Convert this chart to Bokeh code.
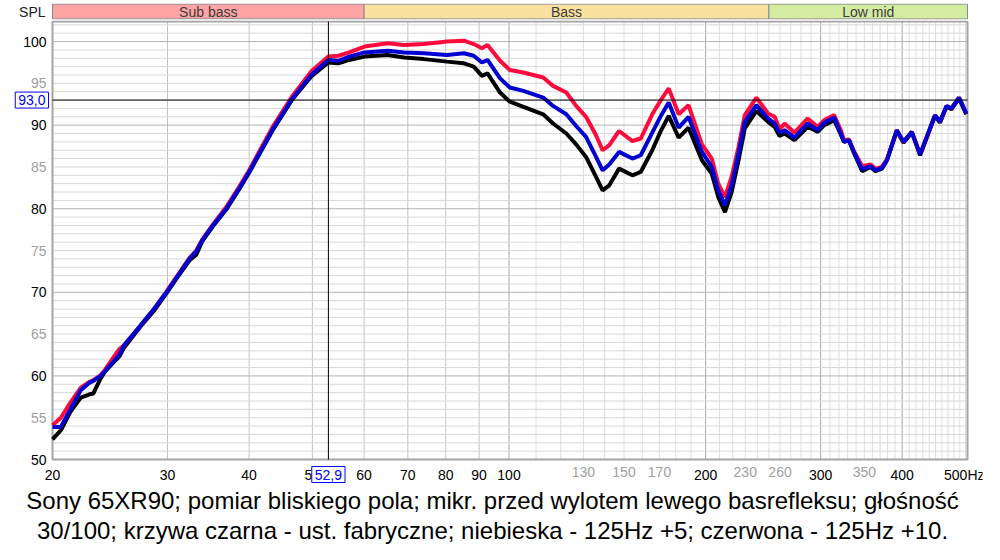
import numpy as np
from bokeh.plotting import figure
from bokeh.models import (Range1d, FixedTicker, Label, ColumnDataSource, Title,
                          LogAxis, LinearAxis)
from bokeh.layouts import column
from bokeh.embed import file_html
from bokeh.resources import INLINE
from bokeh.core.properties import value

# ---------------- data ----------------
freq = [20.0, 20.6, 21.3, 22.1, 22.8, 23.1, 23.7, 24.1, 25.3, 25.7, 27.2, 28.6,
        29.9, 31.0, 32.4, 33.2, 33.9, 35.2, 36.9, 38.6, 40.0, 43.4, 46.5, 49.9,
        52.9, 54.8, 56.9, 60.1, 65.2, 69.1, 74.1, 80.4, 85.3, 88.3, 90.9, 92.7,
        96.9, 100.3, 105.2, 112.8, 116.8, 122.4, 126.7, 131.2, 135.9, 139.1,
        142.4, 147.4, 154.5, 159.1, 165.7, 170.5, 175.6, 181.9, 188.3, 197.4,
        204.4, 209.1, 214.1, 219.2, 224.6, 229.6, 239.2, 249.2, 255.1, 259.6,
        264.2, 273.6, 286.6, 296.8, 303.9, 314.6, 322.1, 325.8, 331.5, 337.3,
        347.3, 357.6, 364.0, 372.4, 379.0, 392.4, 401.8, 413.8, 426.0, 449.0,
        456.9, 467.6, 475.8, 488.6, 501.3]

black = [52.4, 53.5, 55.7, 57.4, 57.8, 57.9, 59.7, 60.6, 62.3, 63.3, 65.8, 67.8,
         69.9, 71.7, 73.8, 74.5, 76.1, 77.9, 79.9, 82.3, 84.3, 89.3, 93.0, 95.9,
         97.5, 97.4, 97.8, 98.2, 98.4, 98.1, 97.9, 97.6, 97.4, 97.0, 95.9, 96.2,
         93.9, 92.8, 92.2, 91.3, 90.2, 89.0, 87.7, 86.2, 83.8, 82.2,
         82.8, 84.8, 84.0, 84.4, 87.0, 89.2, 91.1, 88.5, 89.7, 85.8,
         84.2, 81.4, 79.6, 82.0, 85.8, 89.6, 91.7, 90.4, 89.8, 88.7,
         89.0, 88.2, 89.8, 89.2, 90.0, 90.6, 88.9, 88.0, 88.2, 86.7,
         84.5, 85.0, 84.5, 84.8, 85.8, 89.3, 87.9, 89.1, 86.4, 91.1,
         90.3, 92.2, 91.9, 93.2, 91.3]

blue = [53.9, 53.9, 56.0, 58.3, 59.2, 59.4, 60.0, 60.6, 62.5, 63.6, 65.9, 68.0,
        70.0, 71.8, 74.0, 74.9, 76.2, 78.0, 80.0, 82.4, 84.4, 89.4, 93.1, 96.1,
        97.8, 97.7, 98.2, 98.7, 98.9, 98.7, 98.6, 98.4, 98.6, 98.3, 97.5, 97.8,
        95.6, 94.5, 94.1, 93.3, 92.3, 91.3, 89.9, 88.6, 86.2, 84.6,
        85.3, 86.8, 86.0, 86.4, 89.1, 91.0, 92.7, 89.7, 91.0, 86.8,
        85.0, 82.2, 80.4, 82.8, 86.6, 90.4, 92.4, 90.8, 90.2, 89.1,
        89.4, 88.5, 90.2, 89.4, 90.3, 90.9, 89.0, 88.0, 88.2, 86.8,
        84.7, 85.1, 84.6, 84.9, 85.8, 89.4, 88.0, 89.2, 86.5, 91.2,
        90.4, 92.3, 92.0, 93.3, 91.4]

red = [54.1, 55.0, 56.8, 58.6, 59.3, 59.5, 60.1, 60.8, 63.2, 63.6, 65.9, 68.0,
       70.1, 71.9, 74.1, 75.0, 76.3, 78.1, 80.2, 82.6, 84.6, 89.7, 93.4, 96.5,
       98.2, 98.3, 98.7, 99.4, 99.8, 99.6, 99.7, 100.0, 100.1, 99.7, 99.2, 99.6,
       97.7, 96.6, 96.3, 95.7, 94.7, 93.9, 92.3, 91.0, 88.8, 87.0,
       87.6, 89.3, 88.1, 88.4, 91.3, 92.9, 94.4, 91.3, 92.4, 87.7,
       86.0, 83.0, 81.4, 83.8, 87.4, 91.2, 93.3, 91.4, 91.0, 89.5,
       90.2, 89.1, 90.8, 89.8, 90.6, 91.2, 89.4, 88.2, 88.3, 86.9,
       85.1, 85.3, 84.8, 85.0, 85.9, 89.4, 88.0, 89.2, 86.5, 91.2,
       90.4, 92.3, 92.0, 93.3, 91.4]

band_names = ["Sub bass", "Bass", "Low mid"]
band_edges = [20, 60, 250, 503.5]
band_colors = ["#ffa4a4", "#f9e1a0", "#d4eba2"]

x_tick_labels_major = [20, 30, 40, 50, 60, 70, 80, 90, 100, 200, 300, 400, 500]
x_tick_labels_minor = [130, 150, 170, 230, 260, 350]
y_tick_labels_major = [50, 60, 70, 80, 90, 100]
y_tick_labels_minor = [55, 65, 75, 85, 95]

x_min, x_max = 20.0, 503.5
y_min, y_max = 50.0, 102.4

cursor_x = 52.9
cursor_y = 93.0

caption1 = "Sony 65XR90; pomiar bliskiego pola; mikr. przed wylotem lewego basrefleksu; głośność"
caption2 = "30/100; krzywa czarna - ust. fabryczne; niebieska - 125Hz +5; czerwona - 125Hz +10."

# ---------------- geometry (pixels) ----------------
FONT = "Liberation Sans"
W, H_BAND, H_MAIN = 984, 20, 524
FL, FR = 2, W - 2            # frame (canvas x)
PL, PR = 52, 967             # plot area (canvas x)
BOT_BORDER = 60
FRAME_H = H_MAIN - BOT_BORDER
PT, PB = 1, 439              # plot area (y inside main frame)

dec = (PR - PL) / np.log10(x_max / x_min)
x_range = Range1d(x_min / 10 ** ((PL - FL) / dec), x_max * 10 ** ((FR - PR) / dec))
ppd = (PB - PT) / (y_max - y_min)
y_range = Range1d(y_min - (FRAME_H - PB) / ppd, y_max + PT / ppd)

# ---------------- band strip ----------------
band = figure(width=W, height=H_BAND, x_range=x_range, y_range=Range1d(-0.04, 1.04),
              x_axis_type="log", x_axis_location=None, y_axis_location=None,
              toolbar_location=None, output_backend="svg",
              min_border_left=FL, min_border_right=W - FR, min_border_top=3,
              min_border_bottom=1)
band.grid.visible = False
band.outline_line_color = None
band.quad(left=band_edges[:-1], right=band_edges[1:], bottom=0, top=1,
          fill_color=band_colors, line_color="#8a8a8a", line_width=1)
centers = list(np.sqrt(np.array(band_edges[:-1]) * np.array(band_edges[1:])))
band.text(x=centers, y=[0.5] * 3, text=band_names, text_align="center",
          text_baseline="middle", text_font=value(FONT), text_font_size="14px",
          text_color="#3c3c3c")
band.add_layout(Label(x=x_min, y=0.5, x_offset=-7, text="SPL", text_align="right",
                      text_baseline="middle", text_font=FONT,
                      text_font_size="14px", text_color="#202020"))

# ---------------- main chart ----------------
p = figure(width=W, height=H_MAIN, x_range=x_range, y_range=y_range,
           x_axis_type="log", x_axis_location=None, y_axis_location=None,
           toolbar_location=None, output_backend="svg",
           min_border_left=FL, min_border_right=W - FR, min_border_top=0,
           min_border_bottom=BOT_BORDER)
p.grid.visible = False
p.outline_line_color = None
p.background_fill_color = "white"
p.border_fill_color = "white"

# grid lines limited to the plot area
x_light = [f for f in range(110, 500, 10) if f % 100 != 0] + [500]
x_mid = [30, 40, 50, 60, 70, 80, 90]
x_dark = [100, 200, 300, 400]
y_light = [v for v in range(51, 103) if v % 10 != 0]
y_dark = [60, 70, 80, 90, 100]
for ticks, col in [(x_light, "#dedede"), (x_mid, "#c4c4c4"), (x_dark, "#a8a8a8")]:
    p.segment(x0=ticks, y0=[y_min] * len(ticks), x1=ticks, y1=[y_max] * len(ticks),
              line_color=col, line_width=1)
for ticks, col in [(y_light, "#d8d8d8"), (y_dark, "#b4b4b4")]:
    p.segment(x0=[x_min] * len(ticks), y0=ticks, x1=[x_max] * len(ticks), y1=ticks,
              line_color=col, line_width=1)
p.quad(left=[x_min], right=[x_max], bottom=[y_min], top=[y_max], fill_color=None,
       line_color="#a4a4a4", line_width=2)

# axes (fixed at the plot-area edges)
def style(ax, color, standoff):
    ax.axis_line_color = None
    ax.major_tick_line_color = None
    ax.minor_tick_line_color = None
    ax.major_tick_out = 0
    ax.major_tick_in = 0
    ax.minor_tick_out = 0
    ax.major_label_text_font = FONT
    ax.major_label_text_font_size = "14px"
    ax.major_label_text_color = color
    ax.major_label_standoff = standoff

xax = LogAxis(fixed_location=y_min, ticker=FixedTicker(ticks=x_tick_labels_major),
              major_label_overrides={t: (str(t) + "Hz" if t == 500 else str(t))
                                     for t in x_tick_labels_major})
xax2 = LogAxis(fixed_location=y_min, ticker=FixedTicker(ticks=x_tick_labels_minor),
               major_label_overrides={t: str(t) for t in x_tick_labels_minor})
yax = LinearAxis(fixed_location=x_min, ticker=FixedTicker(ticks=y_tick_labels_major))
yax2 = LinearAxis(fixed_location=x_min, ticker=FixedTicker(ticks=y_tick_labels_minor))
style(xax, "#000000", 7); style(xax2, "#a0a0a0", 7)
style(yax, "#000000", 6); style(yax2, "#a0a0a0", 6)
p.add_layout(xax, "below"); p.add_layout(xax2, "below")
p.add_layout(yax, "left"); p.add_layout(yax2, "left")

# curves
src = ColumnDataSource(dict(f=freq, black=black, blue=blue, red=red))
p.line("f", "black", source=src, line_color="black", line_width=4)
p.line("f", "red", source=src, line_color="#ff0a3c", line_width=4)
p.line("f", "blue", source=src, line_color="#0000d0", line_width=4)

# cursor
p.segment(x0=[cursor_x], y0=[y_min], x1=[cursor_x], y1=[y_max], line_color="black", line_width=1)
p.segment(x0=[x_min], y0=[cursor_y], x1=[x_max], y1=[cursor_y], line_color="black", line_width=1)
p.add_layout(Label(x=cursor_x, y=y_min, y_offset=-7, text="52,9", text_align="center",
                   text_baseline="top", text_font=FONT, text_font_size="14px",
                   text_color="#0000ff", border_line_color="#0000ff",
                   background_fill_color="white", padding=3))
p.add_layout(Label(x=x_min, y=cursor_y, x_offset=-4, text="93,0", text_align="right",
                   text_baseline="middle", text_font=FONT, text_font_size="14px",
                   text_color="#0000ff", border_line_color="#0000ff",
                   background_fill_color="white", padding=3))

# caption
for txt in (caption1, caption2):
    p.add_layout(Title(text=txt, align="center", offset=4, text_font=FONT,
                       text_font_size="24px", text_font_style="normal",
                       text_color="black", standoff=1), "below")

layout = column(band, p, spacing=0)
open("out.html", "w").write(file_html(layout, INLINE))
